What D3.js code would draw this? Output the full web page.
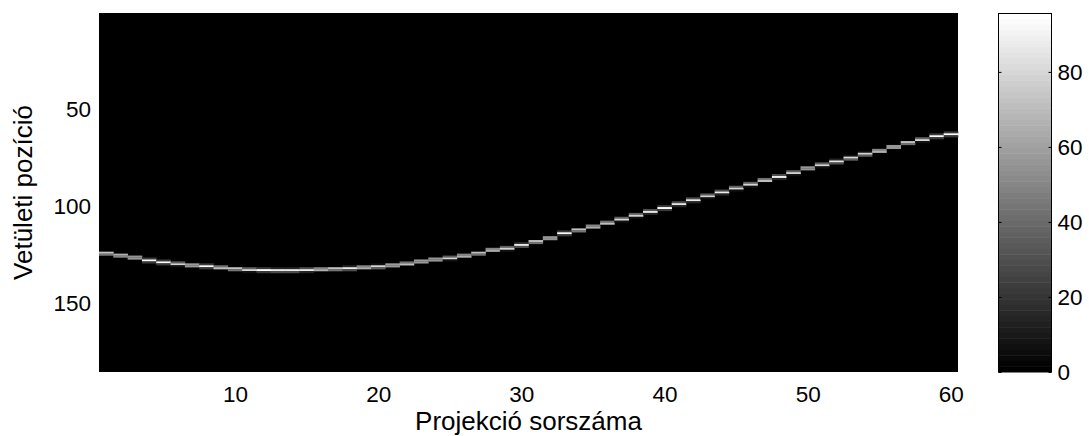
<!DOCTYPE html>
<html>
<head>
<meta charset="utf-8">
<script src="https://cdn.jsdelivr.net/npm/d3@7"></script>
<style>
  html, body { margin: 0; padding: 0; background: #fff; }
  svg { display: block; font-family: "Liberation Sans", Arial, sans-serif; }
</style>
</head>
<body>
<svg id="chart" width="1089" height="436"></svg>
<script>
// Projection index (columns) of the sinogram
const projections = d3.range(1, 61);
// Detector bins (rows)
const rowCount = 185;
// Sub-bin centre of the point-source trace for each projection
const peakRow = [
  124.3, 125.4, 126.5, 128.0, 129.0, 129.8, 130.5, 131.0, 131.7, 132.3,
  132.8, 133.0, 133.1, 133.1, 132.9, 132.6, 132.3, 132.1, 131.6, 131.2,
  130.5, 129.7, 128.5, 127.5, 126.8, 125.6, 124.3, 122.6, 121.8, 120.1,
  118.3, 116.5, 114.0, 112.3, 110.6, 108.7, 106.8, 104.8, 102.9, 101.0,
  98.9, 96.9, 94.8, 92.9, 90.8, 88.8, 86.7, 84.9, 82.8, 80.5,
  78.8, 77.1, 75.2, 73.2, 71.6, 69.5, 67.3, 65.8, 64.0, 63.0
];
// Peak intensity of the trace in each projection
const peakValue = [
  94, 93, 92, 94, 93, 93, 94, 94, 93, 94,
  94, 95, 95, 95, 95, 94, 94, 95, 93, 94,
  93, 93, 94, 92, 93, 93, 93, 92, 93, 93,
  93, 92, 93, 94, 93, 93, 94, 93, 93, 94,
  93, 94, 93, 94, 93, 94, 93, 94, 93, 92,
  94, 93, 94, 93, 94, 92, 93, 94, 93, 95
];
const xTicks = [10, 20, 30, 40, 50, 60];
const yTicks = [50, 100, 150];
const cTicks = [0, 20, 40, 60, 80];
const colorMax = 95.7;

const svg = d3.select("#chart");
const plot = { left: 99, right: 958, top: 13, bottom: 372 };
const cbar = { left: 998, right: 1052 };

const x = d3.scaleLinear().domain([0.5, 60.5]).range([plot.left, plot.right]);
const y = d3.scaleLinear().domain([0.5, rowCount + 0.5]).range([plot.top, plot.bottom]);
const c = d3.scaleLinear().domain([0, colorMax]).range([plot.bottom, plot.top]);
const gray = v => {
  const t = Math.max(0, Math.min(1, v / colorMax));
  const k = Math.round(Math.floor(t * 63.999) / 63 * 255);
  return `rgb(${k},${k},${k})`;
};

// Background of the sinogram (zero-valued bins)
svg.append("rect")
  .attr("x", plot.left).attr("y", plot.top)
  .attr("width", plot.right - plot.left).attr("height", plot.bottom - plot.top)
  .attr("fill", gray(0));

// Non-zero bins: the trace spreads over the neighbouring detector bins
const cells = [];
projections.forEach((p, i) => {
  const pos = peakRow[i], val = peakValue[i], w = 1.3;
  for (let r = Math.floor(pos - w); r <= Math.ceil(pos + w); r++) {
    const v = val * Math.max(0, 1 - Math.abs(r - pos) / w);
    if (v > 0.5) cells.push({ p, r, v });
  }
});
svg.append("g").selectAll("rect").data(cells).join("rect")
  .attr("x", d => x(d.p - 0.5))
  .attr("y", d => y(d.r - 0.5))
  .attr("width", d => x(d.p + 0.5) - x(d.p - 0.5) + 0.3)
  .attr("height", d => y(d.r + 0.5) - y(d.r - 0.5) + 0.2)
  .attr("fill", d => gray(d.v));

const fontSize = 22.5;
const labelSize = 26;
const font = "Liberation Sans, Arial, sans-serif";

// X axis
const xAxis = svg.append("g").attr("transform", `translate(0,${plot.bottom})`)
  .call(d3.axisBottom(x).tickValues(xTicks).tickSize(0).tickPadding(14));
xAxis.select(".domain").remove();
xAxis.selectAll("text").style("font-size", fontSize + "px").attr("fill", "#000").attr("font-family", font);

// Y axis
const yAxis = svg.append("g").attr("transform", `translate(${plot.left},0)`)
  .call(d3.axisLeft(y).tickValues(yTicks).tickSize(0).tickPadding(8));
yAxis.select(".domain").remove();
yAxis.selectAll("text").style("font-size", fontSize + "px").attr("fill", "#000").attr("font-family", font);

// Axis titles
svg.append("text")
  .attr("x", (plot.left + plot.right) / 2).attr("y", 430)
  .attr("text-anchor", "middle").style("font-size", labelSize + "px")
  .text("Projekció sorszáma");
svg.append("text")
  .attr("transform", `translate(32,${(plot.top + plot.bottom) / 2}) rotate(-90)`)
  .attr("text-anchor", "middle").style("font-size", labelSize + "px")
  .text("Vetületi pozíció");

// Colour bar
const steps = d3.range(64);
svg.append("g").selectAll("rect").data(steps).join("rect")
  .attr("x", cbar.left)
  .attr("y", d => c((d + 1) / 64 * colorMax))
  .attr("width", cbar.right - cbar.left)
  .attr("height", d => c(d / 64 * colorMax) - c((d + 1) / 64 * colorMax) + 0.5)
  .attr("fill", d => gray((d + 0.5) / 64 * colorMax));
svg.append("rect")
  .attr("x", cbar.left + 0.5).attr("y", plot.top + 0.5)
  .attr("width", cbar.right - cbar.left - 1).attr("height", plot.bottom - plot.top - 1)
  .attr("fill", "none").attr("stroke", "#000").attr("stroke-width", 1);

const cAxisR = svg.append("g").attr("transform", `translate(${cbar.right - 0.5},0)`)
  .call(d3.axisRight(c).tickValues(cTicks).tickSizeInner(-3).tickSizeOuter(0).tickPadding(6));
cAxisR.select(".domain").remove();
cAxisR.selectAll("line").attr("stroke", "#000");
cAxisR.selectAll("text").style("font-size", fontSize + "px").attr("fill", "#000").attr("font-family", font);
const cAxisL = svg.append("g").attr("transform", `translate(${cbar.left + 0.5},0)`)
  .call(d3.axisLeft(c).tickValues(cTicks).tickSizeInner(-3).tickSizeOuter(0).tickFormat(""));
cAxisL.select(".domain").remove();
cAxisL.selectAll("line").attr("stroke", "#000");
</script>
</body>
</html>
